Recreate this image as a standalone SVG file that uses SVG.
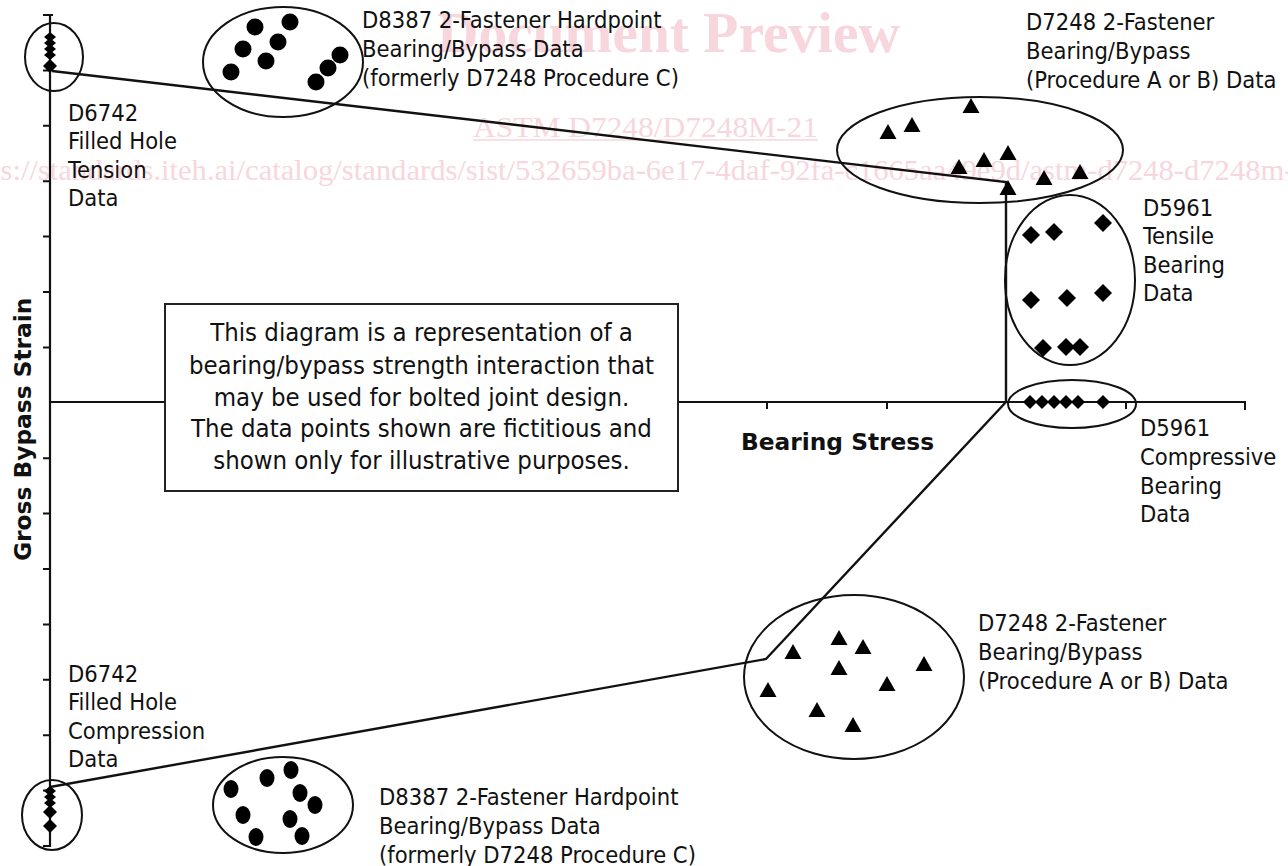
<svg xmlns="http://www.w3.org/2000/svg" width="1288" height="866" viewBox="0 0 1288 866">
<style>
.bg{fill:#fff}
.wm{font-family:"Liberation Serif",serif;fill:#f7d6dd}
.lbl{font-family:"DejaVu Sans Condensed","DejaVu Sans",sans-serif;font-size:23.5px;fill:#111}
.box{font-family:"DejaVu Sans Condensed","DejaVu Sans",sans-serif;font-size:25.5px;fill:#111;text-anchor:middle}
.ttl{font-family:"DejaVu Sans","Liberation Sans",sans-serif;font-size:23.3px;font-weight:bold;fill:#111}
.ax{stroke:#111;stroke-width:2.2;fill:none}
.tk{stroke:#111;stroke-width:2;fill:none}
.env{stroke:#111;stroke-width:2.4;fill:none;stroke-linejoin:miter}
.grp{stroke:#111;stroke-width:2;fill:none}
.mk{fill:#000}
</style>
<defs>
<path id="tri" d="M0,-8 L8.5,7 L-8.5,7 Z"/>
<path id="dia" d="M0,-9 L9,0 L0,9 L-9,0 Z"/>
<path id="sdia" d="M0,-5 L6,0 L0,5 L-6,0 Z"/>
<path id="mdia" d="M0,-7 L7,0 L0,7 L-7,0 Z"/>
</defs>
<rect class="bg" x="0" y="0" width="1288" height="866"/>

<g id="watermark">
<text class="wm" x="437" y="52" font-size="58" font-weight="bold" textLength="463" lengthAdjust="spacingAndGlyphs">Document Preview</text>
<text class="wm" x="473" y="137" font-size="30" textLength="345" lengthAdjust="spacingAndGlyphs">ASTM D7248/D7248M-21</text>
<line x1="473" y1="140" x2="818" y2="140" stroke="#f7d6dd" stroke-width="1.5"/>
<text class="wm" x="-47" y="180" font-size="30" textLength="1372" lengthAdjust="spacingAndGlyphs">https://standards.iteh.ai/catalog/standards/sist/532659ba-6e17-4daf-92fa-c1665aa49e9d/astm-d7248-d7248m-21</text>
</g>

<g id="axes">
<line class="ax" x1="50" y1="14" x2="50" y2="847"/>
<line class="ax" x1="50" y1="402" x2="1246" y2="402"/>
<path class="tk" d="M43,15H53 M43,70.4H50 M43,125.8H50 M43,181.2H50 M43,236.6H50 M43,292H50 M43,347.4H50 M43,458.2H50 M43,513.6H50 M43,569H50 M43,624.4H50 M43,679.8H50 M43,735.2H50 M43,790.6H50 M43,846H50"/>
<path class="tk" d="M767,402V409 M887,402V409 M1126,402V409 M1245,402V410"/>
<text class="ttl" x="741" y="450">Bearing Stress</text>
<text class="ttl" transform="translate(31,561) rotate(-90)">Gross Bypass Strain</text>
</g>

<g id="note">
<rect x="165" y="304" width="513" height="187" fill="#fff" stroke="#222" stroke-width="2"/>
<text class="box" x="421.5" y="341">This diagram is a representation of a</text>
<text class="box" x="421.5" y="374">bearing/bypass strength interaction that</text>
<text class="box" x="421.5" y="406">may be used for bolted joint design.</text>
<text class="box" x="421.5" y="437">The data points shown are fictitious and</text>
<text class="box" x="421.5" y="469">shown only for illustrative purposes.</text>
</g>

<g id="connectors">
<polyline class="env" points="52,71 1006,182 1006,402"/>
<polyline class="env" points="1006,402 766,659 50,787"/>
</g>

<g id="d6742-tension">
<ellipse class="grp" cx="54" cy="57" rx="29" ry="34"/>
<g class="mk">
<use href="#sdia" x="50" y="37"/><use href="#sdia" x="50" y="43"/><use href="#sdia" x="50" y="49"/><use href="#sdia" x="50" y="55"/><use href="#mdia" x="50" y="66"/>
</g>
<text class="lbl" x="68" y="121">D6742</text>
<text class="lbl" x="68" y="149">Filled Hole</text>
<text class="lbl" x="68" y="178">Tension</text>
<text class="lbl" x="68" y="206">Data</text>
</g>

<g id="d8387-top">
<ellipse class="grp" cx="283" cy="62" rx="80" ry="55"/>
<g class="mk">
<circle cx="255" cy="27" r="8.5"/><circle cx="290" cy="22" r="8.5"/><circle cx="243" cy="49" r="8.5"/><circle cx="278" cy="42" r="8.5"/><circle cx="266" cy="61" r="8.5"/><circle cx="231" cy="72" r="8.5"/><circle cx="340" cy="55" r="8.5"/><circle cx="328" cy="68" r="8.5"/><circle cx="316" cy="82" r="8.5"/>
</g>
<text class="lbl" x="362" y="28">D8387 2-Fastener Hardpoint</text>
<text class="lbl" x="362" y="57">Bearing/Bypass Data</text>
<text class="lbl" x="362" y="86">(formerly D7248 Procedure C)</text>
</g>

<g id="d7248-top">
<ellipse class="grp" cx="980" cy="150" rx="143" ry="53"/>
<g class="mk">
<use href="#tri" x="971" y="106"/><use href="#tri" x="912" y="125"/><use href="#tri" x="888" y="132"/><use href="#tri" x="1008" y="153"/><use href="#tri" x="984" y="160"/><use href="#tri" x="959" y="167"/><use href="#tri" x="1044" y="178"/><use href="#tri" x="1080" y="172"/><use href="#tri" x="1008" y="188"/>
</g>
<text class="lbl" x="1026" y="30">D7248 2-Fastener</text>
<text class="lbl" x="1026" y="59">Bearing/Bypass</text>
<text class="lbl" x="1026" y="88">(Procedure A or B) Data</text>
</g>

<g id="d5961-tensile">
<ellipse class="grp" cx="1070" cy="280" rx="65" ry="85"/>
<g class="mk">
<use href="#dia" x="1031" y="235"/><use href="#dia" x="1054" y="232"/><use href="#dia" x="1103" y="223"/><use href="#dia" x="1031" y="300"/><use href="#dia" x="1067" y="298"/><use href="#dia" x="1103" y="293"/><use href="#dia" x="1043" y="348"/><use href="#dia" x="1066" y="347"/><use href="#dia" x="1080" y="347"/>
</g>
<text class="lbl" x="1143" y="216">D5961</text>
<text class="lbl" x="1143" y="244">Tensile</text>
<text class="lbl" x="1143" y="273">Bearing</text>
<text class="lbl" x="1143" y="301">Data</text>
</g>

<g id="d5961-compressive">
<ellipse class="grp" cx="1072" cy="404" rx="64" ry="24"/>
<g class="mk">
<use href="#mdia" x="1030" y="402"/><use href="#mdia" x="1042" y="402"/><use href="#mdia" x="1054" y="402"/><use href="#mdia" x="1066" y="402"/><use href="#mdia" x="1078" y="402"/><use href="#mdia" x="1103" y="402"/>
</g>
<text class="lbl" x="1140" y="436">D5961</text>
<text class="lbl" x="1140" y="465">Compressive</text>
<text class="lbl" x="1140" y="494">Bearing</text>
<text class="lbl" x="1140" y="522">Data</text>
</g>

<g id="d7248-bottom">
<ellipse class="grp" cx="854" cy="677" rx="110" ry="82"/>
<g class="mk">
<use href="#tri" x="793" y="652"/><use href="#tri" x="839" y="638"/><use href="#tri" x="863" y="647"/><use href="#tri" x="839" y="668"/><use href="#tri" x="924" y="664"/><use href="#tri" x="768" y="690"/><use href="#tri" x="887" y="684"/><use href="#tri" x="817" y="710"/><use href="#tri" x="853" y="725"/>
</g>
<text class="lbl" x="978" y="631">D7248 2-Fastener</text>
<text class="lbl" x="978" y="660">Bearing/Bypass</text>
<text class="lbl" x="978" y="689">(Procedure A or B) Data</text>
</g>

<g id="d6742-compression">
<ellipse class="grp" cx="52" cy="815" rx="30" ry="35"/>
<g class="mk">
<use href="#sdia" x="50" y="791"/><use href="#sdia" x="50" y="797"/><use href="#sdia" x="50" y="803"/><use href="#mdia" x="50" y="812"/><use href="#mdia" x="50" y="826"/>
</g>
<text class="lbl" x="68" y="682">D6742</text>
<text class="lbl" x="68" y="710">Filled Hole</text>
<text class="lbl" x="68" y="739">Compression</text>
<text class="lbl" x="68" y="767">Data</text>
</g>

<g id="d8387-bottom">
<ellipse class="grp" cx="283" cy="805" rx="70" ry="48"/>
<g class="mk">
<ellipse cx="231" cy="789" rx="7.5" ry="9"/><ellipse cx="267" cy="778" rx="7.5" ry="9"/><ellipse cx="291" cy="770" rx="7.5" ry="9"/><ellipse cx="300" cy="793" rx="7.5" ry="9"/><ellipse cx="315" cy="805" rx="7.5" ry="9"/><ellipse cx="243" cy="815" rx="7.5" ry="9"/><ellipse cx="290" cy="819" rx="7.5" ry="9"/><ellipse cx="256" cy="837" rx="7.5" ry="9"/><ellipse cx="302" cy="836" rx="7.5" ry="9"/>
</g>
<text class="lbl" x="379" y="805">D8387 2-Fastener Hardpoint</text>
<text class="lbl" x="379" y="834">Bearing/Bypass Data</text>
<text class="lbl" x="379" y="863">(formerly D7248 Procedure C)</text>
</g>
</svg>
